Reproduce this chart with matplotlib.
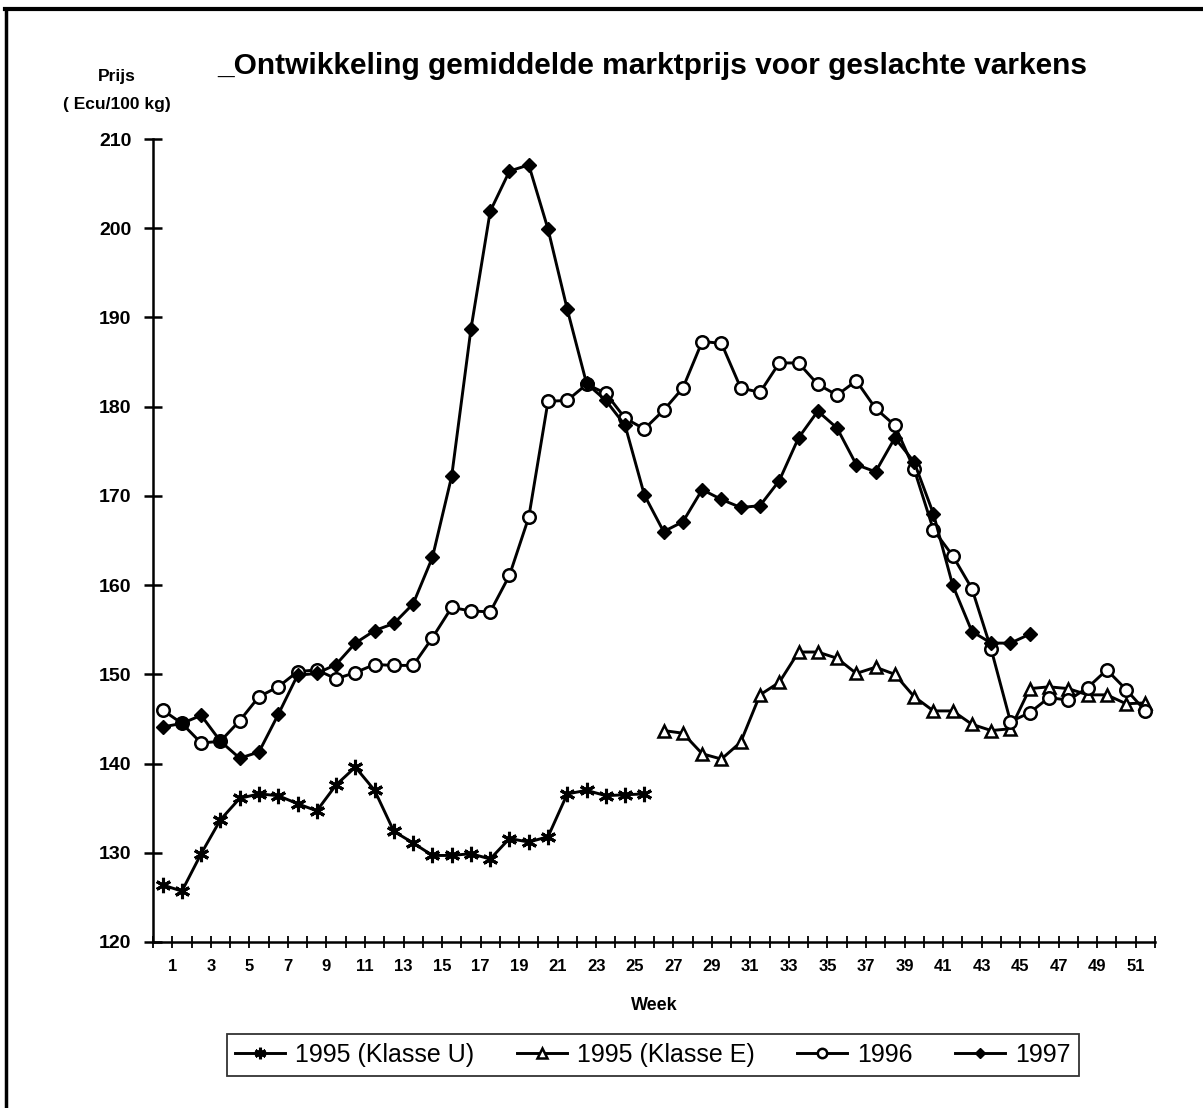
import numpy as np
import matplotlib
matplotlib.use("Agg")
import matplotlib.pyplot as plt
from matplotlib.lines import Line2D

plt.rcParams['font.family'] = ['Liberation Sans', 'DejaVu Sans']

# weekly prices (Ecu/100 kg)
weeks_u95 = list(range(1, 27))
klasse_u_1995 = [126.4, 125.7, 129.9, 133.7, 136.1, 136.6, 136.4, 135.5, 134.7, 137.6,
                 139.6, 137.0, 132.4, 131.1, 129.7, 129.7, 129.9, 129.3, 131.6, 131.2,
                 131.8, 136.6, 137.0, 136.4, 136.5, 136.6]

weeks_e95 = list(range(27, 53))
klasse_e_1995 = [143.7, 143.4, 141.1, 140.5, 142.4, 147.7, 149.1, 152.5, 152.5, 151.8,
                 150.1, 150.8, 150.0, 147.5, 145.9, 145.9, 144.4, 143.7, 143.9, 148.4,
                 148.6, 148.4, 147.7, 147.7, 146.7, 146.8]

weeks_96 = list(range(1, 53))
prices_1996 = [146.0, 144.5, 142.3, 142.5, 144.8, 147.5, 148.6, 150.3, 150.5, 149.5,
               150.2, 151.1, 151.0, 151.0, 154.1, 157.5, 157.1, 157.0, 161.1, 167.6,
               180.6, 180.7, 182.5, 181.5, 178.7, 177.5, 179.6, 182.1, 187.3, 187.1,
               182.1, 181.6, 184.9, 184.9, 182.5, 181.3, 182.9, 179.8, 177.9, 173.0,
               166.2, 163.3, 159.6, 152.8, 144.7, 145.7, 147.4, 147.1, 148.5, 150.5,
               148.3, 145.9]

weeks_97 = list(range(1, 47))
prices_1997 = [144.1, 144.5, 145.4, 142.5, 140.6, 141.3, 145.5, 149.9, 150.1, 151.1,
               153.5, 154.9, 155.7, 157.9, 163.1, 172.2, 188.7, 201.9, 206.4, 207.1,
               199.9, 190.9, 182.6, 180.7, 177.9, 170.1, 166.0, 167.1, 170.7, 169.6,
               168.7, 168.9, 171.7, 176.5, 179.5, 177.6, 173.5, 172.7, 176.5, 173.8,
               168.0, 160.0, 154.8, 153.5, 153.5, 154.5]

W, H = 1203, 1108
fig = plt.figure(figsize=(W / 100, H / 100), dpi=100)
ax = fig.add_axes([153 / W, 1 - 942 / H, 1002 / W, (942 - 139) / H])

lw = 2.1
ax.plot(weeks_u95, klasse_u_1995, color='black', lw=lw, marker=(6, 2, 0),
        ms=11, mew=2.2, label='1995 (Klasse U)')
ax.plot(weeks_e95, klasse_e_1995, color='black', lw=lw, marker='^', ms=9,
        mfc='white', mec='black', mew=1.8, label='1995 (Klasse E)')
ax.plot(weeks_96, prices_1996, color='black', lw=lw, marker='o', ms=9,
        mfc='white', mec='black', mew=1.8, label='1996')
ax.plot(weeks_97, prices_1997, color='black', lw=lw, marker='D', ms=7,
        mfc='black', mec='black', label='1997')

ax.set_xlim(0.5, 52.5)
ax.set_ylim(120, 210)
ax.set_yticks(np.arange(120, 211, 10))

xt = np.arange(0, 53) + 0.5
ax.set_xticks(xt)
ax.set_xticklabels([str(j) if j % 2 == 1 and j < 52 else '' for j in range(53)])

for s in ['top', 'right']:
    ax.spines[s].set_visible(False)
ax.spines['left'].set_linewidth(1.8)
ax.spines['bottom'].set_linewidth(1.8)

ax.tick_params(axis='y', direction='inout', length=13, width=1.8, pad=9,
               labelsize=14)
ax.tick_params(axis='x', direction='inout', length=9, width=1.3, pad=8,
               labelsize=12)
for lab in ax.get_xticklabels() + ax.get_yticklabels():
    lab.set_fontweight('bold')

ax.set_xlabel('Week', fontsize=13, fontweight='bold', labelpad=16)

fig.text(117 / W, 1 - 76 / H, 'Prijs', ha='center', va='center',
         fontsize=12.5, fontweight='bold')
fig.text(117 / W, 1 - 105 / H, '( Ecu/100 kg)', ha='center', va='center',
         fontsize=12.5, fontweight='bold')
fig.text(652 / W, 1 - 66 / H,
         '_Ontwikkeling gemiddelde marktprijs voor geslachte varkens',
         ha='center', va='center', fontsize=21.5, fontweight='bold')

leg = fig.legend(loc='center', bbox_to_anchor=(653 / W, 1 - 1055 / H), ncol=4,
                 fontsize=18, frameon=True, fancybox=False, edgecolor='black',
                 handlelength=2.0, handletextpad=0.4, columnspacing=1.7,
                 markerscale=0.75, borderpad=0.35, borderaxespad=0)
leg.get_frame().set_linewidth(1.3)

# scanned page frame (top and left edge)
fig.add_artist(Line2D([0.004, 1.0], [1 - 9 / H, 1 - 9 / H], color='black',
                      lw=3, transform=fig.transFigure))
fig.add_artist(Line2D([0.005, 0.005], [0, 1 - 9 / H], color='black',
                      lw=2.5, transform=fig.transFigure))

fig.savefig('out.png', dpi=100)
